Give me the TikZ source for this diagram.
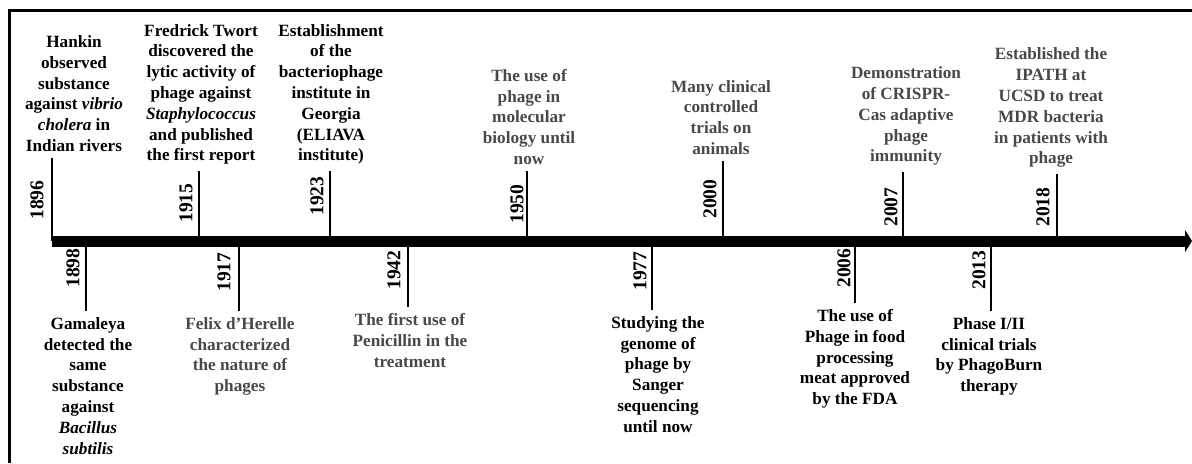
\documentclass[tikz,border=0pt]{standalone}
\usepackage{fontspec}
\setmainfont{Liberation Serif}
\usetikzlibrary{arrows.meta,calc}
\usepackage{xcolor}
\definecolor{tlBlack}{RGB}{0,0,0}
\definecolor{tlGray}{RGB}{72,72,72}

\begin{document}
\begin{tikzpicture}[
  x=0.5pt, y=-0.5pt,
  event/.style={align=center, inner sep=0pt, text=#1,
                font=\fontsize{8.6}{10.4}\selectfont\bfseries},
  event/.default=tlBlack,
  year/.style={rotate=90, inner sep=0pt,
               font=\fontsize{9.8}{10}\selectfont\bfseries},
  tick/.style={line width=0.6pt, shorten >=3pt},
  axis/.style={line width=5.5pt, -{Triangle[width=11pt,length=3.5pt]}}
]
  \useasboundingbox (0,0) rectangle (1192,463);
  % frame
  \draw[line width=1.1pt] (9.5,463) -- (9.5,10.5) -- (1192,10.5);

  % points on the time line
  \foreach \y/\x in {1896/52,1898/86,1915/199,1917/239,1923/330,1942/408,
                     1950/527,1977/652,2000/723,2006/855,2007/903,
                     2013/991,2018/1057}
    \coordinate (T\y) at (\x,241);
  \coordinate (tlEnd) at (1192,241);

  % events above the line
  \node[event, anchor=south] (E1896) at (74,152)
    {Hankin\\observed\\substance\\against \textit{vibrio}\\
     \textit{cholera} in\\Indian rivers};
  \node[event, anchor=south] (E1915) at (201,165)
    {Fredrick Twort\\discovered the\\lytic activity of\\phage against\\
     \textit{Staphylococcus}\\and published\\the first report};
  \node[event, anchor=south] (E1923) at (331,165)
    {Establishment\\of the\\bacteriophage\\institute in\\Georgia\\
     (ELIAVA\\institute)};
  \node[event=tlGray, anchor=south] (E1950) at (529,165)
    {The use of\\phage in\\molecular\\biology until\\now};
  \node[event=tlGray, anchor=south] (E2000) at (721,155)
    {Many clinical\\controlled\\trials on\\animals};
  \node[event=tlGray, anchor=south] (E2007) at (906,166)
    {Demonstration\\of CRISPR-\\Cas adaptive\\phage\\immunity};
  \node[event=tlGray, anchor=south] (E2018) at (1051,168)
    {Established the\\IPATH at\\UCSD to treat\\MDR bacteria\\
     in patients with\\phage};

  % events below the line
  \node[event, anchor=north] (E1898) at (88,317)
    {Gamaleya\\detected the\\same\\substance\\against\\
     \textit{Bacillus}\\\textit{subtilis}};
  \node[event=tlGray, anchor=north] (E1917) at (240,317)
    {Felix d’Herelle\\characterized\\the nature of\\phages};
  \node[event=tlGray, anchor=north] (E1942) at (410,313)
    {The first use of\\Penicillin in the\\treatment};
  \node[event, anchor=north] (E1977) at (658,316)
    {Studying the\\genome of\\phage by\\Sanger\\sequencing\\until now};
  \node[event, anchor=north] (E2006) at (855,309)
    {The use of\\Phage in food\\processing\\meat approved\\by the FDA};
  \node[event, anchor=north] (E2013) at (989,317)
    {Phase I/II\\clinical trials\\by PhagoBurn\\therapy};

  % years
  \foreach \y/\x/\h in {1896/37/200,1915/186/203,1923/317/196,1950/517/204,
                        2000/710/199,2007/891/207,2018/1043/207,
                        1898/73/268,1917/224/272,1942/394/270,1977/640/271,
                        2006/844/268,2013/979/270}
    \node[year] (Y\y) at (\x,\h) {\y};

  % ticks
  \foreach \y in {1896,1915,1923,1950,2000,2007,2018}
    \draw[tick] (T\y) -- (T\y |- E\y.south);
  \foreach \y in {1898,1917,1942,1977,2006,2013}
    \draw[tick] (T\y) -- (T\y |- E\y.north);

  % time line
  \draw[axis] (T1896) -- (tlEnd);
\end{tikzpicture}
\end{document}
